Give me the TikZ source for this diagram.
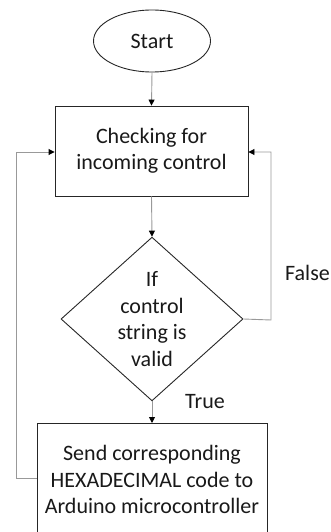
\documentclass[tikz,border=0pt]{standalone}
\usepackage{fontspec}
\setmainfont{Carlito}
\usetikzlibrary{shapes.geometric,arrows.meta}
\begin{document}
\begin{tikzpicture}[x=1pt,y=-1pt,
  shapeline/.style={draw=black!85,line width=0.9pt},
  txt/.style={font=\fontsize{22}{26.5}\selectfont,align=center,text=black!90},
  conn/.style={draw=black!40,line width=0.9pt},
  arr/.style={conn,-{Triangle[length=6pt,width=6pt,fill=black,color=black]}}]
\useasboundingbox (0,0) rectangle (331,532);
\clip (0,0) rectangle (331,532);
\node[shapeline,ellipse,minimum width=117pt,minimum height=62pt,inner sep=0pt,txt] (start) at (152,41) {Start};
\node[shapeline,rectangle,minimum width=193pt,minimum height=90pt,inner sep=0pt,txt] (check) at (151.5,151) {Checking for\\incoming control};
\node[shapeline,diamond,minimum width=182pt,minimum height=158pt,inner sep=0pt,txt] (dec) at (152,319) {If\\control\\string is\\valid};
\node[shapeline,rectangle,minimum width=230pt,minimum height=112pt,inner sep=0pt,txt,anchor=north] (send) at (152,423) {Send corresponding\\HEXADECIMAL code to\\Arduino microcontroller};
\coordinate (lb) at (16,478);
\coordinate (lt) at (16,152);
\coordinate (rb) at (271,320);
\coordinate (rt) at (271,152);
\draw[arr] (start.south) -- (check.north);
\draw[arr] (check.south) -- (dec.north);
\draw[arr] (dec.south) -- (send.north);
\draw[arr] (send.west |- lb) -- (lb) -- (lt) -- (check.west |- lt);
\draw[arr] (dec.east) -- (rb) -- (rt) -- (check.east |- rt);
\node[txt,anchor=east,inner sep=0pt] (false) at (330,273) {False};
\node[txt,inner sep=0pt] (true) at (205,402) {True};
\end{tikzpicture}
\end{document}
